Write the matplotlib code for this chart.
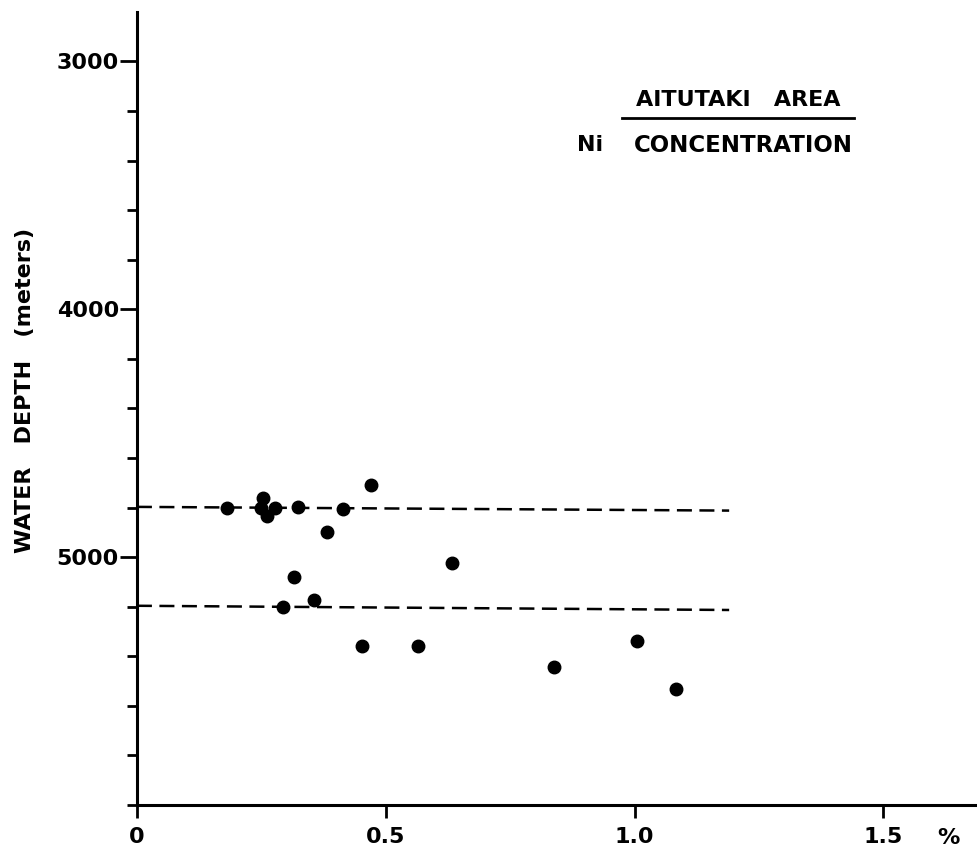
import numpy as np
import matplotlib
matplotlib.use("Agg")
import matplotlib.pyplot as plt
from matplotlib.lines import Line2D
from matplotlib.ticker import FixedLocator

# Ni concentration (%) vs water depth (m)
ni_pct = [0.181, 0.253, 0.250, 0.278, 0.261, 0.324, 0.414, 0.471, 0.381,
          0.633, 0.315, 0.356, 0.294, 0.453, 0.564, 1.004, 0.838, 1.083]
depth_m = [4800, 4760, 4800, 4800, 4832, 4797, 4807, 4709, 4899,
           5025, 5078, 5172, 5201, 5357, 5359, 5337, 5443, 5530]

# dashed boundary lines (x ends, depth at each end)
line_x = [0.0, 1.19]
upper_line = [4797, 4812]
lower_line = [5196, 5213]

x_ticks = [0, 0.5, 1.0, 1.5]
x_labels = ["0", "0.5", "1.0", "1.5"]
y_ticks = [3000, 4000, 5000]
y_minor = [3200, 3400, 3600, 3800, 4200, 4400, 4600, 4800,
           5200, 5400, 5600, 5800, 6000]

plt.rcParams['font.family'] = ['DejaVu Sans']
plt.rcParams['font.weight'] = 'bold'

fig = plt.figure(figsize=(9.78, 8.51), dpi=100)
ax = fig.add_axes([0.140, 0.054, 0.860, 0.932])

ax.plot(ni_pct, depth_m, 'o', color='black', markersize=9, zorder=3)
ax.plot(line_x, upper_line, color='black', lw=1.8, dashes=(6, 3))
ax.plot(line_x, lower_line, color='black', lw=1.8, dashes=(6, 3))

ax.set_xlim(0, 1.69)
ax.set_ylim(6000, 2800)

ax.spines['top'].set_visible(False)
ax.spines['right'].set_visible(False)
ax.spines['left'].set_linewidth(2.2)
ax.spines['bottom'].set_linewidth(2.2)

ax.set_xticks(x_ticks)
ax.set_xticklabels(x_labels, fontsize=16, fontweight='bold')
ax.set_yticks(y_ticks)
ax.set_yticklabels([str(v) for v in y_ticks], fontsize=16, fontweight='bold')
ax.yaxis.set_minor_locator(FixedLocator(y_minor))

ax.tick_params(axis='x', direction='out', length=9, width=2, pad=7)
ax.tick_params(axis='y', which='major', direction='out', length=12, width=2, pad=1)
ax.tick_params(axis='y', which='minor', direction='out', length=7, width=2)

fig.text(948 / 978, 1 - 838 / 851, "%", fontsize=16, fontweight='bold',
         ha='center', va='center')
fig.text(25 / 978, 1 - 390 / 851, "WATER   DEPTH   (meters)", fontsize=16,
         fontweight='bold', rotation=90, ha='center', va='center')

fig.text(738 / 978, 1 - 100 / 851, "AITUTAKI   AREA", fontsize=16,
         fontweight='bold', ha='center', va='center')
fig.add_artist(Line2D([622 / 978, 854 / 978], [1 - 118 / 851, 1 - 118 / 851],
                      color='black', lw=2, transform=fig.transFigure))
fig.text(577 / 978, 1 - 145 / 851, "Ni", fontsize=16, fontweight='bold',
         ha='left', va='center')
fig.text(634 / 978, 1 - 145 / 851, "CONCENTRATION", fontsize=16.5,
         fontweight='bold', ha='left', va='center')

fig.savefig("out.png", dpi=100)
